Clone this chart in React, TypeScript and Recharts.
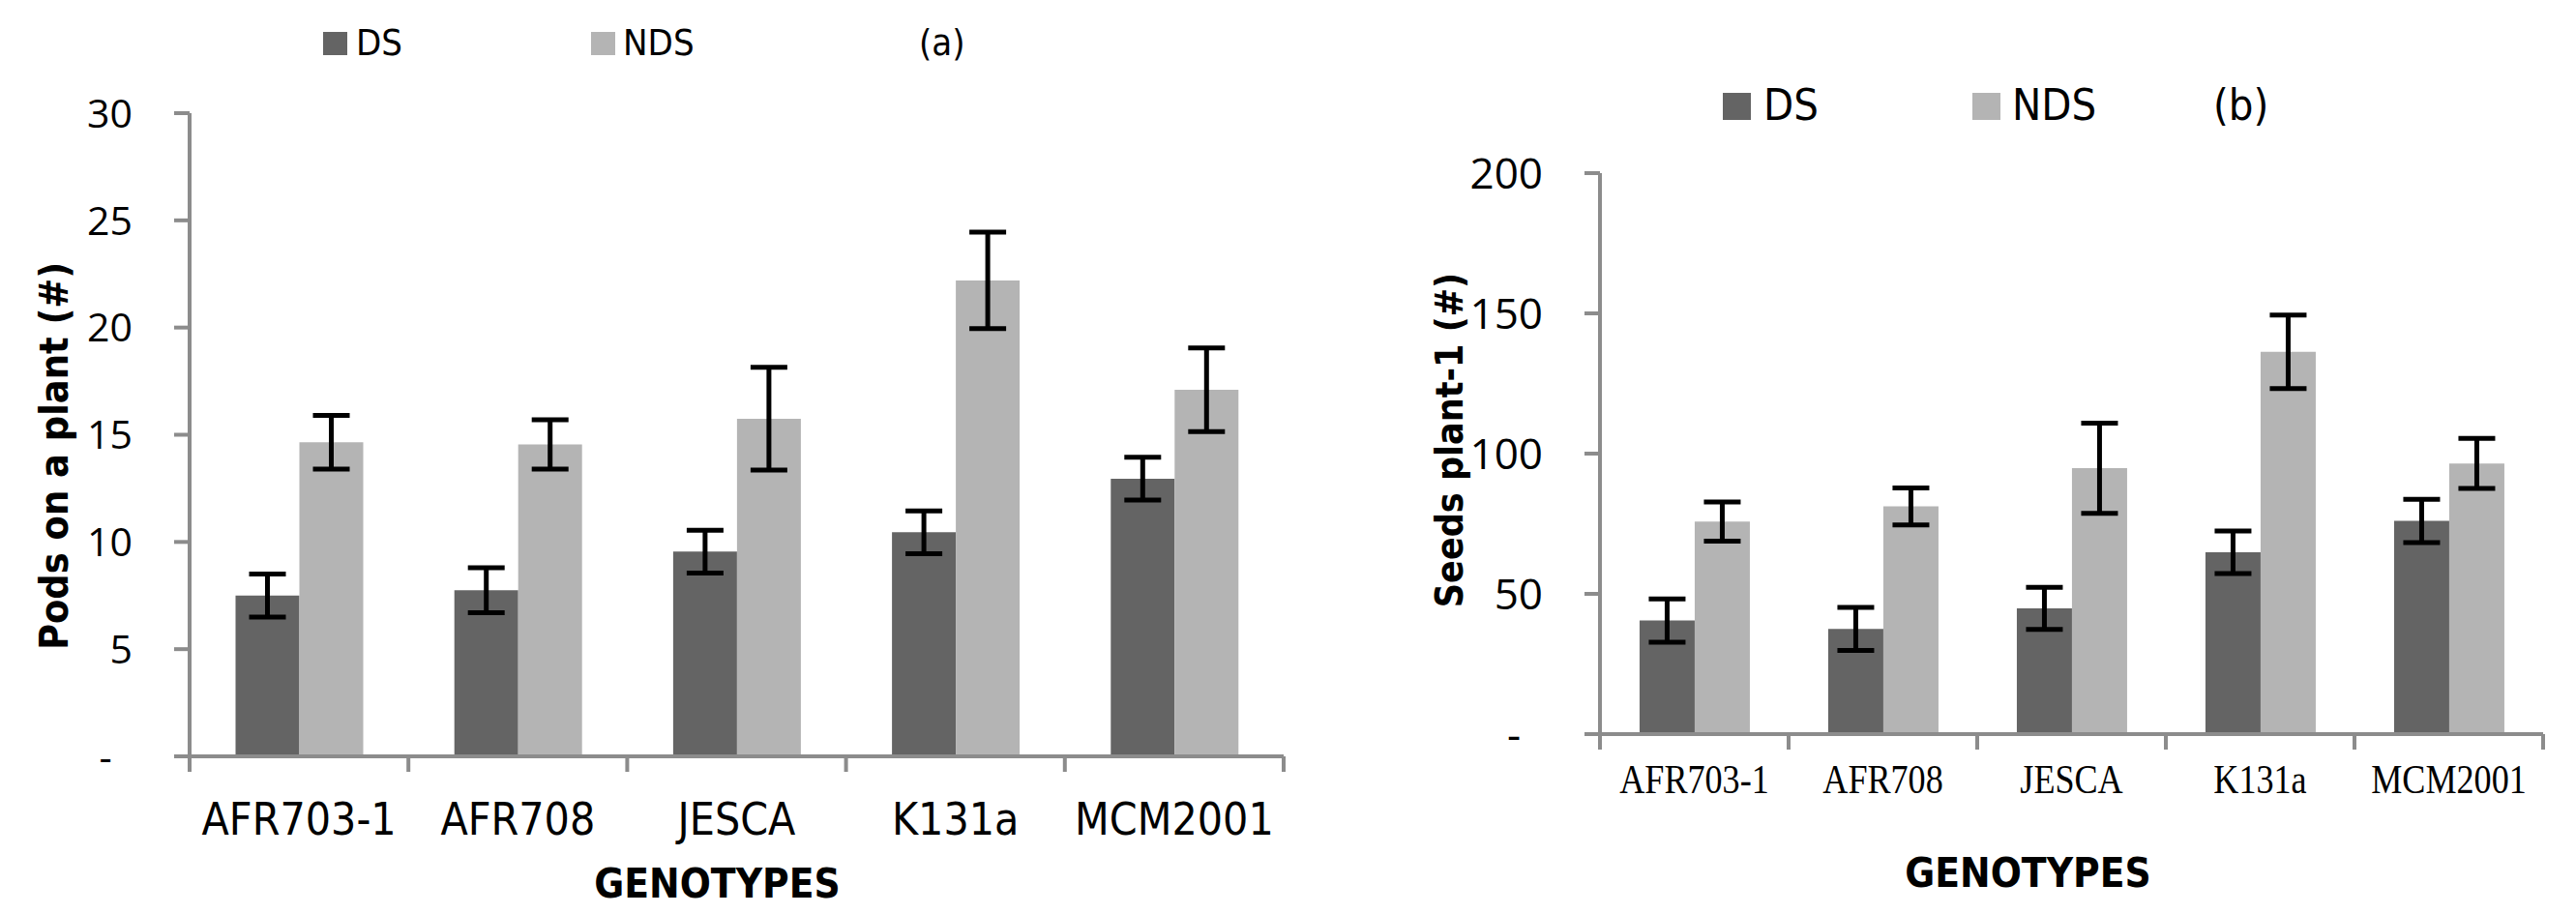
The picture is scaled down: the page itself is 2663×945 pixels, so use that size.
import React from 'react';
import { BarChart, Bar, XAxis, YAxis, ErrorBar, Legend } from 'recharts';

// ---------- data ----------
const genotypes = ['AFR703-1', 'AFR708', 'JESCA', 'K131a', 'MCM2001'];
const seriesNames = ['DS', 'NDS'];

const podsDS = [7.5, 7.75, 9.55, 10.45, 12.95];
const podsDSErr = [1.0, 1.05, 1.0, 1.0, 1.0];
const podsNDS = [14.65, 14.55, 15.75, 22.2, 17.1];
const podsNDSErr = [1.25, 1.15, 2.4, 2.25, 1.95];

const seedsDS = [40.5, 37.5, 44.8, 64.8, 76.0];
const seedsDSErr = [7.7, 7.7, 7.5, 7.6, 7.7];
const seedsNDS = [75.8, 81.2, 94.8, 136.3, 96.5];
const seedsNDSErr = [7.0, 6.6, 16.1, 13.1, 8.9];

const podsTicks = [0, 5, 10, 15, 20, 25, 30];
const seedsTicks = [0, 50, 100, 150, 200];

const podsData = genotypes.map((g, i) => ({
  genotype: g, DS: podsDS[i], dsErr: podsDSErr[i], NDS: podsNDS[i], ndsErr: podsNDSErr[i],
}));
const seedsData = genotypes.map((g, i) => ({
  genotype: g, DS: seedsDS[i], dsErr: seedsDSErr[i], NDS: seedsNDS[i], ndsErr: seedsNDSErr[i],
}));

// ---------- style ----------
const DS_COLOR = '#646464';
const NDS_COLOR = '#b4b4b4';
const AXIS = '#8c8c8c';
const NARROW = "'Liberation Sans Narrow', 'Arial Narrow', 'DejaVu Sans Condensed', sans-serif";
const OPEN = "'Open Sans', sans-serif";
const SERIF = "'Liberation Serif', 'Times New Roman', serif";

const H = 945;

type Cfg = {
  left: number; width: number; top: number; right: number; yAxisW: number; xAxisH: number;
  yTickFont: number; xTickFont: number; xTickFamily: string; xTickScale: number; xTickBase: number;
  yLabel: string; yLabelFont: number; yLabelFromAxis: number; yLabelShift: number;
  xLabelShift: number; xLabelBase: number;
  legend: { sqY: number; size: number; font: number; base: number; items: number[]; text: number[]; tag: string; tagX: number };
};

const cfgA: Cfg = {
  left: 0, width: 1330, top: 117, right: 3, yAxisW: 196, xAxisH: 163,
  yTickFont: 41, xTickFont: 46, xTickFamily: NARROW, xTickScale: 1, xTickBase: 81,
  yLabel: 'Pods on a plant (#)', yLabelFont: 41, yLabelFromAxis: 126, yLabelShift: 22,
  xLabelShift: -20, xLabelBase: 146,
  legend: { sqY: 33, size: 25, font: 38, base: 57, items: [334, 611], text: [368, 644], tag: '(a)', tagX: 950 },
};
const cfgB: Cfg = {
  left: 1330, width: 1333, top: 179, right: 34, yAxisW: 324, xAxisH: 186,
  yTickFont: 44, xTickFont: 42, xTickFamily: SERIF, xTickScale: 0.86, xTickBase: 61,
  yLabel: 'Seeds plant-1 (#)', yLabelFont: 39, yLabelFromAxis: 142, yLabelShift: -14,
  xLabelShift: -45, xLabelBase: 158,
  legend: { sqY: 96, size: 29, font: 45, base: 124, items: [451, 709], text: [493, 750], tag: '(b)', tagX: 958 },
};

const YTick = ({ x, y, payload, fontSize }: any) => (
  <text x={x} y={y} dy="0.36em" textAnchor="end" fontFamily={OPEN} fontSize={fontSize} fill="#000">
    {payload.value === 0 ? '-\u00a0\u00a0' : String(payload.value)}
  </text>
);

const XTick = ({ x, y, payload, index, half, cfg, count }: any) => (
  <g>
    <line x1={x - half} x2={x - half} y1={y} y2={y + 16} stroke={AXIS} strokeWidth={4} />
    {index === count - 1 && (
      <line x1={x + half} x2={x + half} y1={y} y2={y + 16} stroke={AXIS} strokeWidth={4} />
    )}
    <text
      transform={`translate(${x},${y + cfg.xTickBase}) scale(${cfg.xTickScale},1)`}
      textAnchor="middle"
      fontFamily={cfg.xTickFamily}
      fontSize={cfg.xTickFont}
      fill="#000"
    >
      {payload.value}
    </text>
  </g>
);

const LegendBox = ({ payload, cfg }: any) => {
  const L = cfg.legend;
  const items = (payload || []).filter((p: any) => seriesNames.includes(p.value));
  return (
    <svg width={cfg.width} height={150} style={{ display: 'block' }}>
      {items.map((p: any, i: number) => (
        <g key={p.value}>
          <rect x={L.items[i]} y={L.sqY} width={L.size} height={L.size - 1} fill={p.color} />
          <text x={L.text[i]} y={L.base} fontFamily={NARROW} fontSize={L.font} fill="#000">{p.value}</text>
        </g>
      ))}
      <text x={L.tagX} y={L.base} fontFamily={NARROW} fontSize={L.font} fill="#000">{L.tag}</text>
    </svg>
  );
};

const Panel = ({ cfg, data, ticks, max }: { cfg: Cfg; data: any[]; ticks: number[]; max: number }) => {
  const plotW = cfg.width - cfg.right - cfg.yAxisW;
  const half = plotW / genotypes.length / 2;
  return (
    <div style={{ position: 'absolute', left: cfg.left, top: 0 }}>
      <BarChart
        width={cfg.width}
        height={H}
        data={data}
        margin={{ top: cfg.top, right: cfg.right, bottom: 0, left: 0 }}
        barCategoryGap="21%"
        barGap={0}
      >
        <Legend
          verticalAlign="middle"
          align="center"
          wrapperStyle={{ position: 'absolute', left: 0, top: 0, width: cfg.width, height: 150 }}
          content={(p: any) => <LegendBox payload={p.payload} cfg={cfg} />}
        />
        <XAxis
          dataKey="genotype"
          height={cfg.xAxisH}
          axisLine={{ stroke: AXIS, strokeWidth: 4 }}
          tickLine={false}
          tickSize={0}
          tickMargin={0}
          interval={0}
          tick={(p: any) => <XTick {...p} half={half} cfg={cfg} count={genotypes.length} />}
          label={(p: any) => {
            const vb = p.viewBox || {};
            return (
              <text
                x={vb.x + vb.width / 2 + cfg.xLabelShift}
                y={vb.y + cfg.xLabelBase}
                textAnchor="middle"
                fontFamily={NARROW}
                fontWeight="bold"
                fontSize={42}
                fill="#000"
              >
                GENOTYPES
              </text>
            );
          }}
        />
        <YAxis
          width={cfg.yAxisW}
          domain={[0, max]}
          ticks={ticks}
          interval={0}
          axisLine={{ stroke: AXIS, strokeWidth: 4 }}
          tickLine={{ stroke: AXIS, strokeWidth: 4 }}
          tickSize={16}
          tickMargin={43}
          tick={(p: any) => <YTick {...p} fontSize={cfg.yTickFont} />}
          label={(p: any) => {
            const vb = p.viewBox || {};
            const bx = vb.x + vb.width - cfg.yLabelFromAxis;
            const cy = vb.y + vb.height / 2 + cfg.yLabelShift;
            return (
              <text
                x={bx}
                y={cy}
                transform={`rotate(-90, ${bx}, ${cy})`}
                textAnchor="middle"
                fontFamily={NARROW}
                fontWeight="bold"
                fontSize={cfg.yLabelFont}
                fill="#000"
              >
                {cfg.yLabel}
              </text>
            );
          }}
        />
        <Bar dataKey="DS" name="DS" fill={DS_COLOR} isAnimationActive={false}>
          <ErrorBar dataKey="dsErr" width={19} strokeWidth={5} stroke="#000" isAnimationActive={false} />
        </Bar>
        <Bar dataKey="NDS" name="NDS" fill={NDS_COLOR} isAnimationActive={false}>
          <ErrorBar dataKey="ndsErr" width={19} strokeWidth={5} stroke="#000" isAnimationActive={false} />
        </Bar>
      </BarChart>
    </div>
  );
};

export default function App() {
  return (
    <div style={{ position: 'relative', width: 2663, height: H, background: '#fff' }}>
      <style>{'body{margin:0;background:#fff}'}</style>
      <Panel cfg={cfgA} data={podsData} ticks={podsTicks} max={30} />
      <Panel cfg={cfgB} data={seedsData} ticks={seedsTicks} max={200} />
    </div>
  );
}
